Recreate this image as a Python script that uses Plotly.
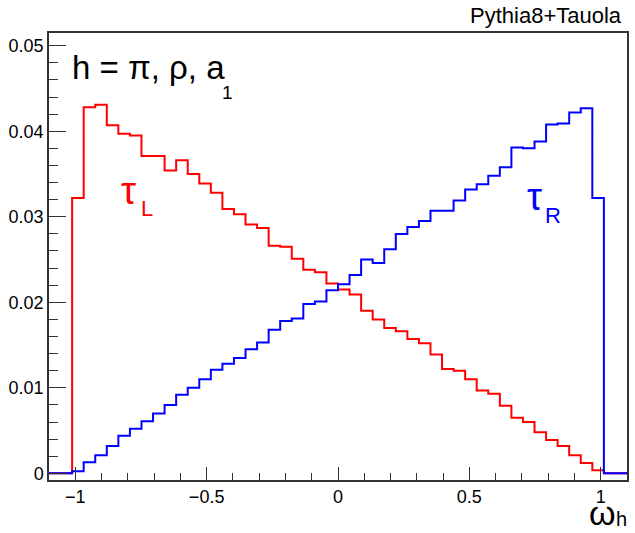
import numpy as np
import plotly.graph_objects as go

# Histogram binning: 50 bins from -1.1 to 1.1
x_low, x_high, n_bins = -1.1, 1.1, 50
bin_edges = np.linspace(x_low, x_high, n_bins + 1)

tau_L = [0, 0, 0.0322, 0.0428, 0.0431, 0.0407, 0.0397, 0.0395, 0.0371, 0.0371,
         0.0354, 0.0366, 0.0350, 0.0339, 0.0328, 0.0309, 0.0303, 0.0291, 0.0287, 0.0266,
         0.0265, 0.0251, 0.0238, 0.0235, 0.0222, 0.0215, 0.0209, 0.0190, 0.0180, 0.0170,
         0.0166, 0.0157, 0.0152, 0.0139, 0.0122, 0.0120, 0.0110, 0.0097, 0.0093, 0.0079,
         0.0065, 0.0060, 0.0048, 0.0039, 0.0032, 0.0021, 0.0012, 0.00035, 0, 0]

tau_R = [0, 0, 0.00023, 0.0013, 0.0021, 0.0032, 0.0044, 0.0052, 0.0061, 0.0070,
         0.0080, 0.0092, 0.0100, 0.0110, 0.0121, 0.0128, 0.0135, 0.0145, 0.0153, 0.0168,
         0.0178, 0.0181, 0.0198, 0.0201, 0.0214, 0.0221, 0.0232, 0.0250, 0.0246, 0.0262,
         0.0280, 0.0288, 0.0295, 0.0307, 0.0307, 0.0319, 0.0332, 0.0338, 0.0348, 0.0358,
         0.0381, 0.0380, 0.0388, 0.0408, 0.0409, 0.0422, 0.0427, 0.0322, 0, 0]

y_tick_vals = [0, 0.01, 0.02, 0.03, 0.04, 0.05]
y_tick_text = ["0", "0.01", "0.02", "0.03", "0.04", "0.05"]
x_tick_vals = [-1, -0.5, 0, 0.5, 1]
x_tick_text = ["\u22121", "\u22120.5", "0", "0.5", "1"]

W, H = 635, 533
ML, MR, MT, MB = 49, 6, 33, 53
PW, PH = W - ML - MR, H - MT - MB


def px(xp):
    return (xp - ML) / PW


def py(yp):
    return (H - MB - yp) / PH


FONT = "Liberation Sans, Arial, sans-serif"

fig = go.Figure()
for vals, col in [(tau_L, "#ff0000"), (tau_R, "#0000ff")]:
    fig.add_trace(go.Scatter(
        x=bin_edges, y=list(vals) + [vals[-1]],
        mode="lines", line=dict(color=col, width=2, shape="hv"),
        showlegend=False, hoverinfo="skip"))

axis_common = dict(showgrid=False, zeroline=False, showline=True, mirror=True,
                   linecolor="#333333", linewidth=1.5, ticks="inside",
                   tickcolor="#333333", tickwidth=1,
                   tickfont=dict(family=FONT, size=18, color="black"))

fig.update_xaxes(range=[x_low, x_high], tickvals=x_tick_vals, ticktext=x_tick_text,
                 ticklen=13, minor=dict(ticks="inside", ticklen=7, dtick=0.1, tick0=0,
                                        tickcolor="#333333", tickwidth=1),
                 **axis_common)
fig.update_yaxes(range=[-0.00078, 0.05149], tickvals=y_tick_vals, ticktext=y_tick_text,
                 ticklen=17, minor=dict(ticks="inside", ticklen=9, dtick=0.002, tick0=0,
                                        tickcolor="#333333", tickwidth=1),
                 **axis_common)


def ann(text, xpix, ypix, size, color="black", xanchor="center"):
    fig.add_annotation(text=text, x=px(xpix), y=py(ypix), xref="paper", yref="paper",
                       xanchor=xanchor, yanchor="middle", showarrow=False,
                       font=dict(family=FONT, size=size, color=color))


ann("Pythia8+Tauola", 626, 15, 22, xanchor="right")
ann("h = \u03c0, \u03c1, a", 70, 67, 33, xanchor="left")
ann("1", 228, 92, 19)
ann("\u03c4", 129, 191, 38, color="#ff0000")
ann("L", 147, 209, 22, color="#ff0000")
ann("\u03c4", 536.5, 197, 38, color="#0000ff")
ann("R", 555, 216, 22, color="#0000ff")
ann("\u03c9", 604, 513, 34)
ann("h", 623, 519, 20)

fig.update_layout(width=W, height=H, margin=dict(l=ML, r=MR, t=MT, b=MB),
                  paper_bgcolor="white", plot_bgcolor="white",
                  font=dict(family=FONT))
fig.write_html("out.html")
